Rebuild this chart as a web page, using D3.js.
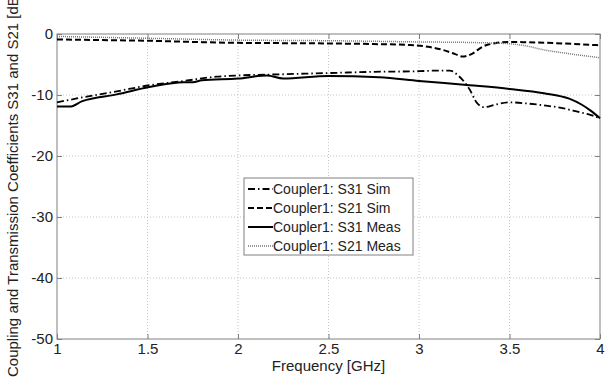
<!DOCTYPE html>
<html lang="en">
<head>
  <meta charset="UTF-8">
  <title>Coupler1 S-parameters</title>
  <script src="https://cdnjs.cloudflare.com/ajax/libs/d3/7.8.5/d3.min.js"></script>
  <style>
    * { margin: 0; padding: 0; }
    body { background: #ffffff; width: 608px; height: 377px; overflow: hidden; }
    text { font-family: "Liberation Sans", Arial, sans-serif; fill: #222; }
    .grid line { stroke: #c4c4c4; stroke-width: 1; stroke-dasharray: 1,2; }
    .frame { fill: none; stroke: #808080; stroke-width: 1; }
  </style>
</head>
<body>
<div id="chart"></div>
<script>
  // ---- data ----
  const xTicks = [1, 1.5, 2, 2.5, 3, 3.5, 4];
  const yTicks = [0, -10, -20, -30, -40, -50];

  const fS31Sim = [1.0, 1.14, 1.33, 1.51, 1.7, 1.88, 2.0, 2.25, 2.5, 2.75, 3.0, 3.1, 3.17, 3.22, 3.28, 3.32, 3.36, 3.42, 3.5, 3.6, 3.69, 3.8, 3.87, 3.95, 4.0];
  const s31Sim  = [-11.2, -10.4, -9.4, -8.4, -7.7, -7.0, -6.8, -6.6, -6.4, -6.2, -6.1, -6.0, -6.0, -6.9, -9.1, -11.3, -12.0, -11.6, -11.2, -11.4, -11.7, -12.2, -12.7, -13.3, -13.8];

  const fS21Sim = [1.0, 1.25, 1.5, 1.75, 2.0, 2.25, 2.5, 2.75, 2.95, 3.05, 3.13, 3.2, 3.24, 3.29, 3.35, 3.42, 3.5, 3.6, 3.75, 3.9, 4.0];
  const s21Sim  = [-0.9, -1.0, -1.1, -1.3, -1.45, -1.5, -1.55, -1.65, -1.8, -2.1, -2.6, -3.3, -3.7, -3.3, -2.1, -1.5, -1.3, -1.35, -1.5, -1.7, -1.85];

  const fS31Meas = [1.0, 1.07, 1.14, 1.33, 1.51, 1.7, 1.75, 1.8, 2.0, 2.16, 2.25, 2.5, 2.78, 3.0, 3.28, 3.5, 3.69, 3.83, 3.9, 3.95, 4.0];
  const s31Meas  = [-11.9, -11.9, -11.0, -9.9, -8.7, -7.9, -7.9, -7.6, -7.3, -6.8, -7.3, -6.9, -7.1, -7.7, -8.4, -9.0, -9.7, -10.6, -11.6, -12.6, -13.8];

  const fS21Meas = [1.0, 1.5, 2.0, 2.5, 3.0, 3.3, 3.5, 3.6, 3.69, 3.8, 3.87, 3.95, 4.0];
  const s21Meas  = [-0.4, -0.7, -1.0, -1.1, -1.3, -1.4, -1.6, -2.0, -2.6, -3.1, -3.4, -3.7, -3.9];

  const seriesNames = ["Coupler1: S31 Sim", "Coupler1: S21 Sim", "Coupler1: S31 Meas", "Coupler1: S21 Meas"];

  // line styles per series
  const styles = [
    {width: 1.8, dash: "7,3,1.5,3", color: "#000"},
    {width: 2, dash: "6,3", color: "#000"},
    {width: 2, dash: null, color: "#000"},
    {width: 1.5, dash: "1,1", color: "#777"}
  ];

  const series = [
    fS31Sim.map((f, i) => ({f, v: s31Sim[i]})),
    fS21Sim.map((f, i) => ({f, v: s21Sim[i]})),
    fS31Meas.map((f, i) => ({f, v: s31Meas[i]})),
    fS21Meas.map((f, i) => ({f, v: s21Meas[i]}))
  ];

  const W = 608, H = 377;
  const margin = {top: 34, right: 8, bottom: 38, left: 57};
  const width = W - margin.left - margin.right;
  const height = H - margin.top - margin.bottom;

  const svg = d3.select("#chart").append("svg")
    .attr("width", W).attr("height", H);

  const g = svg.append("g").attr("transform", `translate(${margin.left},${margin.top})`);

  const x = d3.scaleLinear().domain([1, 4]).range([0, width]);
  const y = d3.scaleLinear().domain([-50, 0]).range([height, 0]);

  // grid
  const grid = g.append("g").attr("class", "grid");
  grid.selectAll(".gx").data(xTicks.slice(1, -1)).enter().append("line")
    .attr("x1", d => x(d)).attr("x2", d => x(d)).attr("y1", 0).attr("y2", height);
  grid.selectAll(".gy").data(yTicks.slice(1, -1)).enter().append("line")
    .attr("x1", 0).attr("x2", width).attr("y1", d => y(d)).attr("y2", d => y(d));

  // axes (ticks inward, on all four sides); plain hyphen for negatives
  const plain = d => String(d);
  const tickStyle = sel => {
    sel.select(".domain").remove();
    sel.selectAll(".tick line").attr("stroke", "#808080");
    sel.selectAll(".tick text").style("font-size", "15px").attr("fill", "#222");
  };
  g.append("g").attr("transform", `translate(0,${height})`)
    .call(d3.axisBottom(x).tickValues(xTicks).tickSize(-5).tickPadding(4).tickFormat(plain))
    .call(tickStyle);
  g.append("g")
    .call(d3.axisLeft(y).tickValues(yTicks).tickSize(-5).tickPadding(4).tickFormat(plain))
    .call(tickStyle);
  g.append("g")
    .call(d3.axisTop(x).tickValues(xTicks).tickSize(-5).tickFormat(""))
    .call(tickStyle);
  g.append("g").attr("transform", `translate(${width},0)`)
    .call(d3.axisRight(y).tickValues(yTicks).tickSize(-5).tickFormat(""))
    .call(tickStyle);

  g.append("rect").attr("class", "frame").attr("width", width).attr("height", height);

  // curves
  const line = d3.line().x(d => x(d.f)).y(d => y(d.v)).curve(d3.curveMonotoneX);
  series.forEach((s, i) => {
    g.append("path").datum(s)
      .attr("d", line)
      .attr("fill", "none")
      .attr("stroke", styles[i].color)
      .attr("stroke-width", styles[i].width)
      .attr("stroke-dasharray", styles[i].dash);
  });

  // axis labels
  svg.append("text")
    .attr("x", margin.left + width / 2).attr("y", 371)
    .attr("text-anchor", "middle").style("font-size", "15px")
    .text("Frequency [GHz]");
  svg.append("text")
    .attr("transform", "translate(18,377) rotate(-90)")
    .attr("text-anchor", "start").style("font-size", "15px")
    .text("Coupling and Transmission Coefficients S31 and S21 [dB]");

  // legend
  const lg = svg.append("g").attr("transform", "translate(244,178)");
  lg.append("rect").attr("width", 169).attr("height", 77)
    .attr("fill", "#fff").attr("stroke", "#808080");
  seriesNames.forEach((name, i) => {
    const ly = 11 + i * 19;
    lg.append("line").attr("x1", 4).attr("x2", 29).attr("y1", ly).attr("y2", ly)
      .attr("stroke", styles[i].color).attr("stroke-width", styles[i].width)
      .attr("stroke-dasharray", styles[i].dash);
    lg.append("text").attr("x", 29).attr("y", ly + 5).style("font-size", "14px").text(name);
  });
</script>
</body>
</html>
